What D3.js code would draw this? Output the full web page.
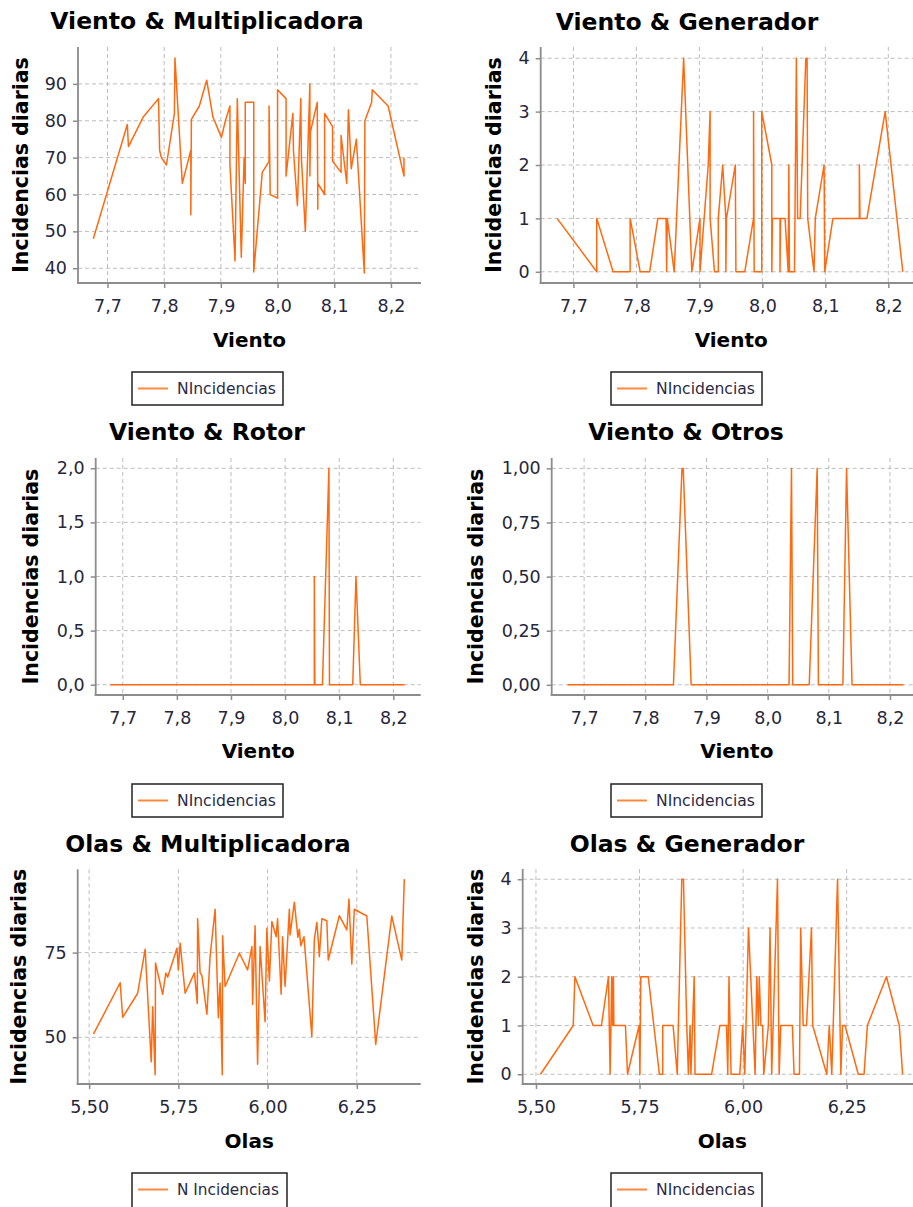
<!DOCTYPE html>
<html>
<head>
<meta charset="utf-8">
<script src="https://cdn.jsdelivr.net/npm/d3@7"></script>
<style>
  html, body { margin: 0; padding: 0; background: #fff; }
  svg { display: block; }
</style>
</head>
<body>
<svg id="chart" width="913" height="1207"></svg>
<script>
// ---------------- DATA ----------------
const vientoTicks = [7.7, 7.8, 7.9, 8.0, 8.1, 8.2];
const olasTicks = [5.50, 5.75, 6.00, 6.25];
const multVientoTicks = [40, 50, 60, 70, 80, 90];
const genTicks = [0, 1, 2, 3, 4];
const rotorTicks = [0, 0.5, 1.0, 1.5, 2.0];
const otrosTicks = [0, 0.25, 0.5, 0.75, 1.0];
const multOlasTicks = [50, 75];
const legendLabel = "NIncidencias";
const legendLabelOlasMult = "N Incidencias";

// Viento & Multiplicadora
const vmX = [7.675,7.735,7.737,7.763,7.79,7.792,7.795,7.804,7.818,7.819,7.832,7.847,7.847,7.848,7.862,7.875,7.886,7.901,7.908,7.916,7.916,7.925,7.929,7.936,7.941,7.943,7.943,7.958,7.958,7.973,7.985,7.985,7.987,8.0,8.0,8.015,8.015,8.027,8.028,8.035,8.041,8.042,8.049,8.057,8.057,8.058,8.07,8.071,8.071,8.083,8.083,8.097,8.097,8.112,8.112,8.122,8.125,8.13,8.139,8.153,8.154,8.166,8.167,8.195,8.223,8.223];
const vmY = [48,79,73,81,86,72,70,68,82,97,63,72,54.5,80.4,84,91,81,75.5,80,84,68,42,86,43,70,63,85,85,39,66,69,84,60,59,88.4,86,65,82,72,57,86,70,50,90,65,77,85,56,63,60,82,78.4,69,66,76,63,83,67,75,38.7,80,85,88.4,84,65,70];

// Viento & Generador
const vgX = [7.674,7.737,7.737,7.763,7.79,7.79,7.806,7.821,7.834,7.847,7.848,7.849,7.86,7.875,7.888,7.901,7.901,7.914,7.917,7.917,7.924,7.93,7.93,7.937,7.942,7.942,7.943,7.957,7.958,7.972,7.986,7.986,7.987,7.999,7.999,8.015,8.015,8.016,8.028,8.028,8.029,8.036,8.041,8.042,8.043,8.051,8.054,8.056,8.06,8.069,8.071,8.072,8.082,8.084,8.098,8.099,8.112,8.154,8.154,8.155,8.166,8.195,8.223];
const vgY = [1,0,1,0,0,1,0,0,1,1,0,1,0,4,0,1,0,2,3,1,0,0,1,2,1,0,1,2,0,0,1,3,0,0,3,2,0,1,1,0,1,1,0,2,0,0,4,1,1,4,4,1,0,1,2,0,1,1,2,1,1,3,0];

// Viento & Rotor
const vrX = [7.677,8.054,8.054,8.055,8.069,8.081,8.082,8.125,8.131,8.139,8.221];
const vrY = [0,0,1,0,0,2,0,0,1,0,0];

// Viento & Otros
const voX = [7.673,7.846,7.86,7.862,7.875,8.035,8.039,8.041,8.068,8.081,8.083,8.123,8.129,8.138,8.222];
const voY = [0,0,1,1,0,0,1,0,0,1,0,0,1,0,0];

// Olas & Multiplicadora
const omX = [5.512,5.587,5.594,5.636,5.657,5.674,5.678,5.685,5.686,5.706,5.715,5.72,5.746,5.75,5.755,5.769,5.795,5.803,5.804,5.811,5.816,5.83,5.839,5.853,5.862,5.867,5.873,5.874,5.881,5.921,5.944,5.956,5.958,5.965,5.972,5.979,5.993,5.998,6.005,6.012,6.024,6.028,6.038,6.042,6.049,6.061,6.063,6.075,6.085,6.089,6.093,6.102,6.124,6.131,6.138,6.142,6.145,6.152,6.166,6.17,6.201,6.222,6.228,6.236,6.243,6.278,6.303,6.348,6.376,6.383];
const omY = [50.9,66.1,55.9,63,76,42.8,59,38.9,71.9,62.7,69,67.7,76.3,69.9,77.8,63,69,60,85,69,68.2,56.8,74,87.8,55.8,66,38.9,80,65,74.8,69.9,76.8,59.7,82.9,42,76.8,54.6,82.2,66.6,84.2,79.7,85,62.7,79.7,65,87.8,80.2,89.9,79.5,81.9,77,79.7,50.2,78.9,83.9,78.7,73.8,85,84.4,72.8,85.9,81.7,90.8,71.6,87.8,85.8,47.9,85.8,72.8,96.7];

// Olas & Generador
const ogX = [5.511,5.59,5.594,5.638,5.658,5.675,5.679,5.683,5.685,5.687,5.688,5.716,5.721,5.749,5.751,5.753,5.771,5.798,5.806,5.806,5.831,5.841,5.852,5.856,5.864,5.868,5.872,5.874,5.882,5.884,5.924,5.944,5.96,5.963,5.966,5.971,5.992,5.999,6.004,6.013,6.029,6.033,6.037,6.039,6.043,6.047,6.05,6.061,6.065,6.069,6.083,6.087,6.091,6.119,6.123,6.136,6.139,6.145,6.153,6.165,6.168,6.202,6.208,6.214,6.228,6.236,6.24,6.246,6.278,6.292,6.3,6.346,6.377,6.385];
const ogY = [0,1,2,1,1,2,0,2,1,2,1,1,0,1,0,2,2,0,0,1,1,0,4,4,1,0,1,0,2,0,0,1,1,0,2,0,0,1,0,3,0,2,1,2,1,1,0,1,3,0,4,0,1,1,0,0,3,1,1,3,1,0,1,0,4,0,1,1,0,0,1,2,1,0];

// ---------------- LAYOUT ----------------
const locale = d3.formatLocale({decimal: ",", thousands: ".", grouping: [3], currency: ["", "€"]});
const f0 = locale.format(".0f"), f1 = locale.format(".1f"), f2 = locale.format(".2f");

const panels = [
  {title: "Viento & Multiplicadora", xs: vmX, ys: vmY, xLabel: "Viento",
   box: [78, 421, 47, 283], xDom: [7.648, 8.253], yDom: [36, 100],
   xTicks: vientoTicks, yTicks: multVientoTicks, xFmt: f1, yFmt: f0,
   titleX: 207, titleY: 29, yLabX: 27.5, xLabY: 347, legend: [132, 372, 151, 33, legendLabel, 99]},
  {title: "Viento & Generador", xs: vgX, ys: vgY, xLabel: "Viento",
   box: [540.7, 921.7, 47, 283], xDom: [7.648, 8.253], yDom: [-0.21, 4.21],
   xTicks: vientoTicks, yTicks: genTicks, xFmt: f1, yFmt: f0,
   titleX: 687, titleY: 30, yLabX: 501, xLabY: 347, legend: [611, 372, 151, 33, legendLabel, 99]},
  {title: "Viento & Rotor", xs: vrX, ys: vrY, xLabel: "Viento",
   box: [95.7, 420.7, 458, 695], xDom: [7.65, 8.2506], yDom: [-0.095, 2.095],
   xTicks: vientoTicks, yTicks: rotorTicks, xFmt: f1, yFmt: f1,
   titleX: 207, titleY: 440, yLabX: 37.5, xLabY: 758, legend: [132, 784, 151, 33, legendLabel, 99]},
  {title: "Viento & Otros", xs: voX, ys: voY, xLabel: "Viento",
   box: [551.7, 922.4, 458, 695], xDom: [7.647, 8.253], yDom: [-0.047, 1.048],
   xTicks: vientoTicks, yTicks: otrosTicks, xFmt: f1, yFmt: f2,
   titleX: 686, titleY: 440, yLabX: 483, xLabY: 758, legend: [611, 784, 151, 33, legendLabel, 99]},
  {title: "Olas & Multiplicadora", xs: omX, ys: omY, xLabel: "Olas",
   box: [77.7, 420.7, 869.3, 1084], xDom: [5.468, 6.429], yDom: [36.2, 99.6],
   xTicks: olasTicks, yTicks: multOlasTicks, xFmt: f2, yFmt: f0,
   titleX: 208, titleY: 852, yLabX: 26, xLabY: 1148, legend: [132, 1173, 155, 40, legendLabelOlasMult, 102]},
  {title: "Olas & Generador", xs: ogX, ys: ogY, xLabel: "Olas",
   box: [522.7, 922.9, 869, 1084], xDom: [5.468, 6.434], yDom: [-0.2, 4.21],
   xTicks: olasTicks, yTicks: genTicks, xFmt: f2, yFmt: f0,
   titleX: 687, titleY: 852, yLabX: 483, xLabY: 1148, legend: [611, 1173, 151, 40, legendLabel, 99]}
];

const LINE = "#ff6a10";
const svg = d3.select("#chart");
const FONT = "'DejaVu Sans', Verdana, sans-serif";

panels.forEach(p => {
  const [L, R, T, B] = p.box;
  const x = d3.scaleLinear().domain(p.xDom).range([L, R]);
  const y = d3.scaleLinear().domain(p.yDom).range([B, T]);
  const g = svg.append("g");

  // grid
  g.append("g").selectAll("line").data(p.xTicks).join("line")
    .attr("x1", d => x(d)).attr("x2", d => x(d)).attr("y1", T).attr("y2", B)
    .attr("stroke", "#bdbdbd").attr("stroke-width", 1).attr("stroke-dasharray", "4,3");
  g.append("g").selectAll("line").data(p.yTicks).join("line")
    .attr("x1", L).attr("x2", R).attr("y1", d => y(d)).attr("y2", d => y(d))
    .attr("stroke", "#bdbdbd").attr("stroke-width", 1).attr("stroke-dasharray", "4,3");

  // axes
  const xAxis = d3.axisBottom(x).tickValues(p.xTicks).tickFormat(p.xFmt).tickSize(5).tickPadding(8);
  const yAxis = d3.axisLeft(y).tickValues(p.yTicks).tickFormat(p.yFmt).tickSize(5).tickPadding(6);
  const gx = g.append("g").attr("transform", `translate(0,${B})`).call(xAxis);
  const gy = g.append("g").attr("transform", `translate(${L},0)`).call(yAxis);
  [gx, gy].forEach(a => {
    a.select(".domain").remove();
    a.selectAll(".tick line").attr("stroke", "#8c8c8c").attr("stroke-width", 1.5);
    a.selectAll(".tick text").attr("fill", "#27273a").style("font-family", FONT).style("font-size", "17.5px");
  });
  gx.selectAll(".tick text").attr("dy", "0").attr("y", 29);
  g.append("line").attr("x1", L).attr("x2", L).attr("y1", T).attr("y2", B + 1)
    .attr("stroke", "#8c8c8c").attr("stroke-width", 1.8);
  g.append("line").attr("x1", L - 1).attr("x2", R).attr("y1", B).attr("y2", B)
    .attr("stroke", "#8c8c8c").attr("stroke-width", 1.8);

  // data line
  const pts = p.xs.map((v, i) => [v, p.ys[i]]);
  g.append("path").datum(pts)
    .attr("d", d3.line().x(d => x(d[0])).y(d => y(d[1])))
    .attr("fill", "none").attr("stroke", LINE).attr("stroke-width", 1.5).attr("stroke-linejoin", "round");

  // title
  g.append("text").attr("x", p.titleX).attr("y", p.titleY).attr("text-anchor", "middle")
    .style("font-family", FONT).style("font-weight", "bold").style("font-size", "23.5px")
    .attr("fill", "#000").text(p.title);
  // y label
  g.append("text").attr("transform", `translate(${p.yLabX},${(T + B) / 2}) rotate(-90)`)
    .attr("text-anchor", "middle")
    .style("font-family", FONT).style("font-weight", "bold").style("font-size", "20.5px")
    .attr("fill", "#000").text("Incidencias diarias");
  // x label
  g.append("text").attr("x", (L + Math.min(R, 913 + 9)) / 2).attr("y", p.xLabY).attr("text-anchor", "middle")
    .style("font-family", FONT).style("font-weight", "bold").style("font-size", "20px")
    .attr("fill", "#000").text(p.xLabel);

  // legend
  const [lx, ly, lw, lh, lt, tw] = p.legend;
  const lg = g.append("g").attr("transform", `translate(${lx},${ly})`);
  lg.append("rect").attr("width", lw).attr("height", lh).attr("fill", "#fff")
    .attr("stroke", "#222").attr("stroke-width", 1.5);
  lg.append("line").attr("x1", 6).attr("x2", 36).attr("y1", 16.5).attr("y2", 16.5)
    .attr("stroke", "#ff8a3c").attr("stroke-width", 2);
  const lt_ = lg.append("text").attr("x", 45).attr("y", 21.5)
    .style("font-family", FONT).style("font-size", "14px").attr("fill", "#2a2a44").text(lt);
  // fit font size so the label width matches the reference
  const w = lt_.node().getComputedTextLength();
  if (w > 0) {
    let fs = 14 * tw / w;
    fs = Math.max(11, Math.min(16, fs));
    lt_.style("font-size", fs + "px");
  }
});
</script>
</body>
</html>
